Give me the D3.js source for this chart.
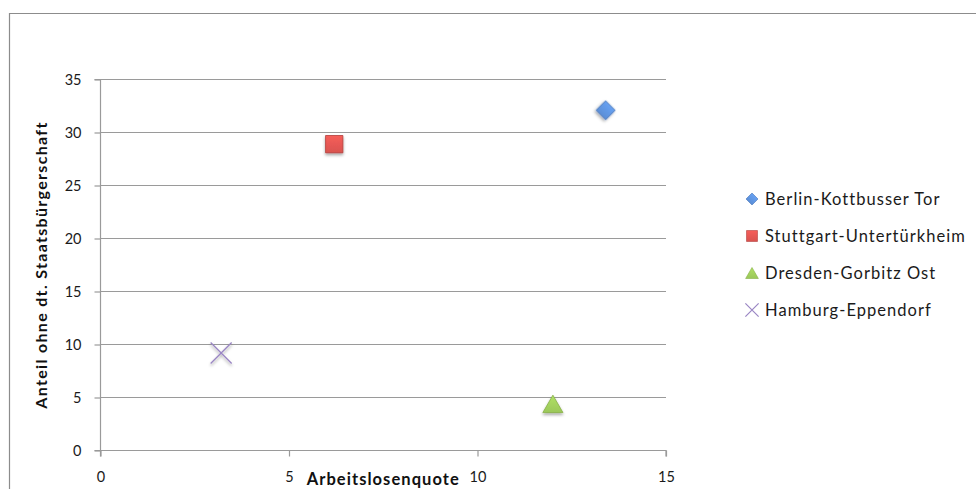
<!DOCTYPE html>
<html>
<head>
<meta charset="utf-8">
<script src="https://cdn.jsdelivr.net/npm/d3@7"></script>
<style>
  html, body { margin: 0; padding: 0; background: #fff; }
  svg { display: block; }
  text { font-family: Lato, "Open Sans", sans-serif; }
</style>
</head>
<body>
<svg id="chart" width="976" height="489"></svg>
<script>
// ---- data ----
const series = ["Berlin-Kottbusser Tor", "Stuttgart-Untertürkheim", "Dresden-Gorbitz Ost", "Hamburg-Eppendorf"];
const xValues = [13.4, 6.2, 12.0, 3.2];
const yValues = [32.1, 28.9, 4.4, 9.2];
const xTicks = [0, 5, 10, 15];
const yTicks = [0, 5, 10, 15, 20, 25, 30, 35];
const xTitle = "Arbeitslosenquote";
const yTitle = "Anteil ohne dt. Staatsbürgerschaft";

// ---- styling ----
const markerTypes = ["diamond", "square", "triangle", "times"];
const fills = ["#5b8ed6", "#d9534f", "#9bc759", "none"];
const strokes = ["#4a79bd", "#b23e3b", "#86b046", "#9a86c4"];

const svg = d3.select("#chart");
const defs = svg.append("defs");
const f = defs.append("filter").attr("id", "shadow").attr("x", "-50%").attr("y", "-50%").attr("width", "200%").attr("height", "200%");
f.append("feDropShadow").attr("dx", 0).attr("dy", 2).attr("stdDeviation", 1.4).attr("flood-color", "#000").attr("flood-opacity", 0.35);

fills.forEach((c, i) => {
  if (c === "none") return;
  const g = defs.append("linearGradient").attr("id", "grad" + i).attr("x1", 0).attr("y1", 0).attr("x2", 0).attr("y2", 1);
  g.append("stop").attr("offset", "0%").attr("stop-color", d3.color(c).brighter(0.35));
  g.append("stop").attr("offset", "100%").attr("stop-color", c);
});

// fit text width by letter spacing
function fitSpacing(sel, target) {
  sel.each(function () {
    const t = d3.select(this);
    const n = this.textContent.length;
    const w = this.getComputedTextLength();
    t.attr("letter-spacing", ((target - w) / n).toFixed(2));
  });
}

// chart frame
svg.append("path").attr("d", "M9.5,489 V13.5 H976").attr("fill", "none").attr("stroke", "#8c8c8c").attr("stroke-width", 1.2);

const x = d3.scaleLinear().domain([0, 15]).range([100.5, 666]);
const y = d3.scaleLinear().domain([0, 35]).range([450.5, 79.5]);

// gridlines
svg.append("g").selectAll("line").data(yTicks.filter(d => d > 0)).join("line")
  .attr("x1", x(0)).attr("x2", x(15)).attr("y1", d => y(d)).attr("y2", d => y(d))
  .attr("stroke", "#9a9a9a").attr("stroke-width", 1.2);

// axes
const gx = svg.append("g").attr("transform", `translate(0,${y(0)})`)
  .call(d3.axisBottom(x).tickValues(xTicks).tickSize(6).tickPadding(11).tickFormat(d3.format("d")));
const gy = svg.append("g").attr("transform", `translate(${x(0)},0)`)
  .call(d3.axisLeft(y).tickValues(yTicks).tickSize(6).tickPadding(12).tickFormat(d3.format("d")));
[gx, gy].forEach(g => {
  g.select(".domain").attr("stroke", "#9a9a9a").attr("stroke-width", 1.2);
  g.selectAll(".tick line").attr("stroke", "#9a9a9a").attr("stroke-width", 1.2);
  g.selectAll(".tick text").attr("fill", "#1a1a1a").style("font-size", "14.5px").style("font-family", "Lato, sans-serif");
});
gx.select(".domain").attr("d", `M${x(0)},6V0H${x(15)}V6`);
gy.select(".domain").attr("d", `M-6,${y(35)}H0V${y(0)}H-6`);
gy.selectAll(".tick text").attr("x", -19);
gx.selectAll(".tick text").attr("y", 21);

// axis titles
const xt = svg.append("text").text(xTitle)
  .attr("x", (x(0) + x(15)) / 2).attr("y", 484.5).attr("text-anchor", "middle")
  .attr("font-weight", "bold").style("font-size", "16.5px").attr("fill", "#111");
fitSpacing(xt, 153);
const yt = svg.append("text").text(yTitle)
  .attr("transform", `translate(47,${(y(0) + y(35)) / 2}) rotate(-90)`).attr("text-anchor", "middle")
  .attr("font-weight", "bold").style("font-size", "16px").attr("fill", "#111");
fitSpacing(yt, 287);

// symbol helpers
function symbolFor(type, scale) {
  if (type === "diamond") return { gen: d3.symbol(d3.symbolSquare, 180 * scale), rot: 45, dy: 0 };
  if (type === "square") return { gen: d3.symbol(d3.symbolSquare, 300 * scale), rot: 0, dy: 0 };
  if (type === "triangle") return { gen: d3.symbol(d3.symbolTriangle, 175 * scale), rot: 0, dy: 2.9 * Math.sqrt(scale) };
  return { gen: d3.symbol(d3.symbolTimes, 290 * scale), rot: 0, dy: 0 };
}

// points
const points = series.map((s, i) => ({ s, i, xv: xValues[i], yv: yValues[i] }));
svg.append("g").selectAll("path").data(points).join("path")
  .each(function (d) {
    const sym = symbolFor(markerTypes[d.i], 1);
    d3.select(this)
      .attr("d", sym.gen())
      .attr("transform", `translate(${x(d.xv)},${y(d.yv) + sym.dy}) rotate(${sym.rot})`)
      .attr("fill", fills[d.i] === "none" ? "none" : `url(#grad${d.i})`)
      .attr("stroke", strokes[d.i])
      .attr("stroke-width", fills[d.i] === "none" ? 1.3 : 0.8)
      .attr("filter", "url(#shadow)");
  });

// legend
const legend = svg.append("g").attr("transform", "translate(752,199)");
const rows = legend.selectAll("g").data(points).join("g")
  .attr("transform", (d, i) => `translate(0,${i * 37})`);
rows.append("path").each(function (d) {
  const sym = symbolFor(markerTypes[d.i], 0.4);
  d3.select(this)
    .attr("d", sym.gen())
    .attr("transform", `translate(0,${sym.dy}) rotate(${sym.rot})`)
    .attr("fill", fills[d.i] === "none" ? "none" : `url(#grad${d.i})`)
    .attr("stroke", strokes[d.i])
    .attr("stroke-width", fills[d.i] === "none" ? 1.2 : 0.6);
});
const lt = rows.append("text").text(d => d.s)
  .attr("x", 13).attr("dy", "0.36em")
  .style("font-size", "16.5px").attr("fill", "#1a1a1a");
const firstW = lt.nodes()[0].getComputedTextLength();
const ls = ((175 - firstW) / series[0].length).toFixed(2);
lt.attr("letter-spacing", ls);
</script>
</body>
</html>
